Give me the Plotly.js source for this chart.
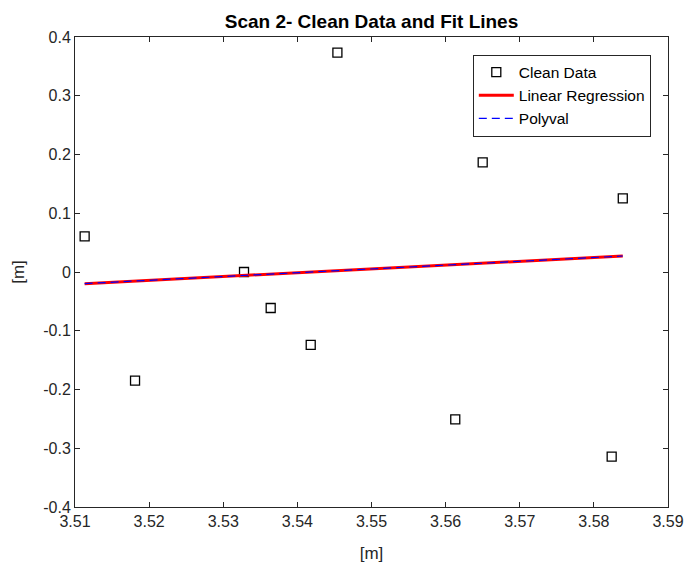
<!DOCTYPE html>
<html>
<head>
<meta charset="utf-8">
<script src="https://cdn.plot.ly/plotly-3.0.1.min.js"></script>
<style>html,body{margin:0;padding:0;background:#fff;}#chart{width:689px;height:571px;}</style>
</head>
<body>
<div id="chart"></div>
<script>
// Clean data points
const cleanX = [3.5113, 3.5181, 3.5328, 3.5364, 3.5418, 3.5454, 3.5613, 3.5650, 3.5754, 3.5824, 3.5839];
const cleanY = [0.0608, -0.185, 0.0, -0.0613, -0.124, 0.3734, -0.2507, 0.1867, 0.248, -0.3143, 0.1254];
// Fit lines (endpoints)
const fitX = [3.5113, 3.5839];
const linRegY = [-0.0198, 0.0272];
const polyvalY = [-0.0198, 0.0272];
// Tick labels
const xTickVals = [3.51, 3.52, 3.53, 3.54, 3.55, 3.56, 3.57, 3.58, 3.59];
const xTickText = ['3.51', '3.52', '3.53', '3.54', '3.55', '3.56', '3.57', '3.58', '3.59'];
const yTickVals = [-0.4, -0.3, -0.2, -0.1, 0, 0.1, 0.2, 0.3, 0.4];
const yTickText = ['-0.4', '-0.3', '-0.2', '-0.1', '0', '0.1', '0.2', '0.3', '0.4'];

const font = 'Liberation Sans, Arial, Helvetica, sans-serif';
const axisCol = '#262626';

const traces = [
  {x: cleanX, y: cleanY, mode: 'markers', type: 'scatter', name: 'Clean Data',
   marker: {symbol: 'square-open', size: 9, color: '#000', line: {width: 1.3, color: '#000'}}},
  {x: fitX, y: linRegY, mode: 'lines', type: 'scatter', name: 'Linear Regression',
   line: {color: '#ff0000', width: 3}},
  {x: fitX, y: polyvalY, mode: 'lines', type: 'scatter', name: 'Polyval',
   line: {color: '#0000ff', width: 1.2, dash: '8px,5px'}}
];

function axis(extra) {
  return Object.assign({
    showgrid: false, zeroline: false, showline: true, linecolor: axisCol, linewidth: 1,
    mirror: 'ticks', ticks: 'inside', ticklen: 5, tickcolor: axisCol, tickwidth: 1,
    tickfont: {family: font, size: 16, color: axisCol}, tickmode: 'array'
  }, extra);
}

const layout = {
  width: 689, height: 571,
  margin: {l: 75, r: 21, t: 37, b: 64},
  paper_bgcolor: '#fff', plot_bgcolor: '#fff',
  showlegend: true,
  title: {text: '<b>Scan 2- Clean Data and Fit Lines</b>', font: {family: font, size: 19, color: '#000'},
          x: 0.5, xanchor: 'center', xref: 'paper', y: 0.963, yanchor: 'middle'},
  xaxis: axis({range: [3.51, 3.59], tickvals: xTickVals, ticktext: xTickText,
    title: {text: '[m]', font: {family: font, size: 17, color: axisCol}, standoff: 17}}),
  yaxis: axis({range: [-0.4, 0.4], tickvals: yTickVals, ticktext: yTickText,
    title: {text: '[m]', font: {family: font, size: 17, color: axisCol}, standoff: 14}}),
  legend: {x: 0.971, y: 0.9626, xanchor: 'right', yanchor: 'top', bgcolor: '#fff',
           bordercolor: axisCol, borderwidth: 1, font: {family: font, size: 15.5, color: '#000'},
           tracegroupgap: 0, itemwidth: 35}
};

Plotly.newPlot('chart', traces, layout, {displayModeBar: false, staticPlot: true});
</script>
</body>
</html>
